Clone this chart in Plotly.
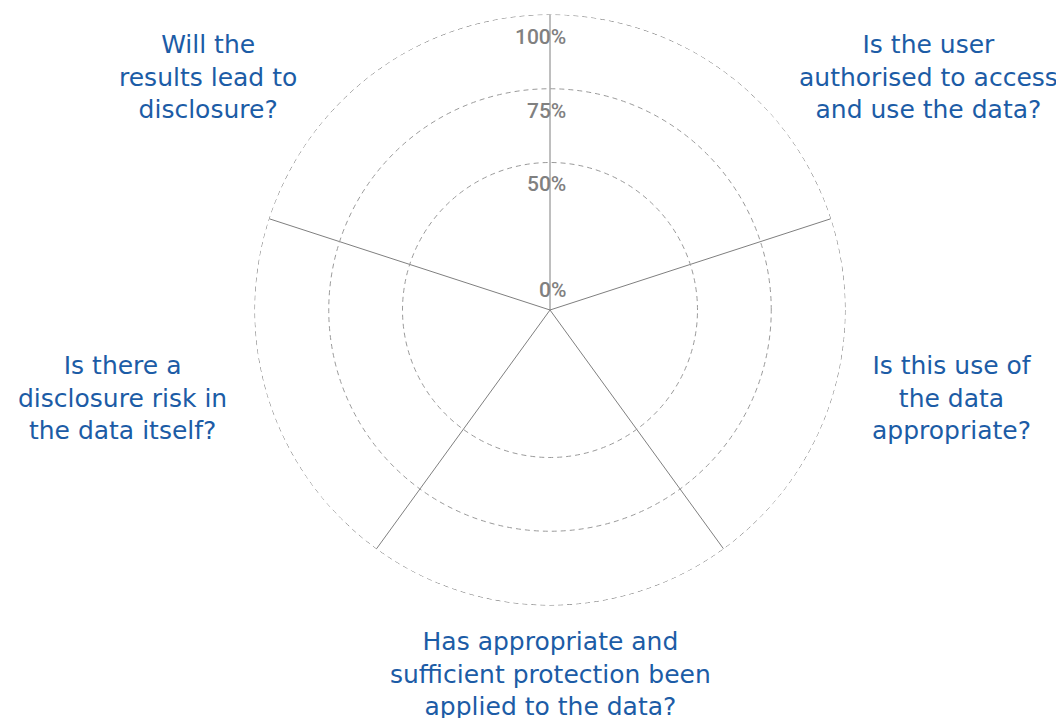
import plotly.graph_objects as go

# ---- data ----
spokes = ["A", "B", "C", "D", "E"]  # five axes of the radar frame
questions = [
    "Is the user<br>authorised to access<br>and use the data?",
    "Is this use of<br>the data<br>appropriate?",
    "Has appropriate and<br>sufficient protection been<br>applied to the data?",
    "Is there a<br>disclosure risk in<br>the data itself?",
    "Will the<br>results lead to<br>disclosure?",
]
tick_values = [0, 50, 75, 100]
tick_labels = ["0%", "50%", "75%", "100%"]

# ---- layout geometry (figure pixels; page body adds an 8px offset) ----
W, H = 1064, 718
OFF = 8
CX, CY, R = 550 - OFF, 310 - OFF, 295
RMAX = 100
BLUE = "#1c5ca6"
GREY = "#808080"
FONT = "DejaVu Sans"

fig = go.Figure()
fig.add_trace(go.Scatterpolar(r=[], theta=[], showlegend=False, hoverinfo="skip"))

dom_x = [(CX - R) / W, (CX + R) / W]
dom_y = [(H - CY - R) / H, (H - CY + R) / H]

fig.update_layout(
    width=W, height=H,
    margin=dict(l=0, r=0, t=0, b=0),
    paper_bgcolor="white",
    plot_bgcolor="white",
    showlegend=False,
    polar=dict(
        domain=dict(x=dom_x, y=dom_y),
        bgcolor="white",
        angularaxis=dict(
            type="category",
            categoryarray=spokes,
            rotation=90,
            direction="clockwise",
            showline=False,
            showticklabels=False,
            ticks="",
            showgrid=True,
            gridcolor="#7f7f7f",
            gridwidth=1,
        ),
        radialaxis=dict(
            range=[0, RMAX],
            tickvals=tick_values[1:],
            showticklabels=False,
            ticks="",
            showline=False,
            showgrid=True,
            gridcolor="#9a9a9a",
            gridwidth=1,
            griddash="5px,4px",
            angle=90,
        ),
    ),
)

# outer (100%) dashed ring: the boundary of the polar domain
fig.add_shape(
    type="circle", xref="paper", yref="paper",
    x0=dom_x[0], x1=dom_x[1], y0=dom_y[0], y1=dom_y[1],
    line=dict(color="#7a7a7a", width=1, dash="5px,4px"),
    layer="below",
)

# question labels (placed between spokes)
label_pos = [(928, 77), (952, 398), (550, 674), (122, 398), (208, 77)]
for q, (x, y) in zip(questions, label_pos):
    fig.add_annotation(
        text=q, xref="paper", yref="paper", x=(x - OFF) / W, y=1 - (y - OFF) / H,
        xanchor="center", yanchor="middle", align="center", showarrow=False,
        font=dict(family=FONT, size=25, color=BLUE),
    )

# radial tick labels along the vertical axis
for v, t in zip(tick_values, tick_labels):
    ypx = CY - R * v / 100
    fig.add_annotation(
        text=t, xref="paper", yref="paper", x=(568 - OFF) / W, y=1 - ypx / H,
        xanchor="right", yanchor="middle", showarrow=False,
        yshift=20 if v == 0 else -22,
        font=dict(family="Roboto", size=21, color=GREY, weight=500),
    )

fig.write_html("out.html")
